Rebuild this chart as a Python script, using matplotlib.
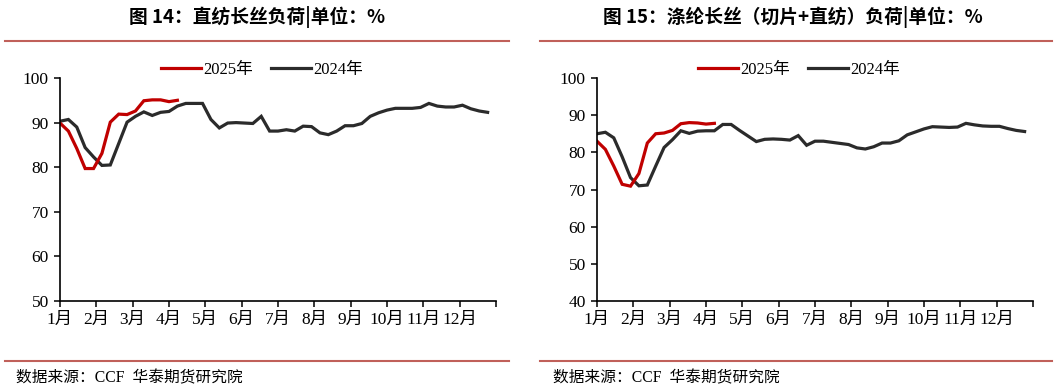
import numpy as np
import matplotlib
matplotlib.use('Agg')
import matplotlib.pyplot as plt
from matplotlib.lines import Line2D

plt.rcParams['font.family'] = ['Liberation Serif', 'Noto Sans CJK SC']

# 周度数据，x 轴按月份（0-12）排列
months = ['1月', '2月', '3月', '4月', '5月', '6月', '7月', '8月', '9月', '10月', '11月', '12月']

# 图14：直纺长丝负荷
zf_2024 = [90.3, 90.7, 89.0, 84.4, 82.3, 80.4, 80.5, 85.3, 90.1, 91.4, 92.4, 91.6, 92.3,
           92.5, 93.7, 94.3, 94.3, 94.3, 90.7, 88.8, 89.9, 90.0, 89.9, 89.8, 91.4, 88.1,
           88.1, 88.4, 88.1, 89.2, 89.1, 87.7, 87.3, 88.1, 89.3, 89.3, 89.8, 91.4, 92.2,
           92.8, 93.2, 93.2, 93.2, 93.4, 94.3, 93.7, 93.5, 93.5, 93.9, 93.1, 92.6, 92.3]
zf_2025 = [89.9, 88.1, 84.2, 79.7, 79.7, 83.1, 90.1, 91.9, 91.8, 92.6, 94.9, 95.1, 95.1,
           94.7, 95.0]

# 图15：涤纶长丝（切片+直纺）负荷
dl_2024 = [85.0, 85.4, 83.9, 78.8, 73.2, 71.0, 71.2, 76.3, 81.3, 83.4, 85.8, 85.1, 85.7,
           85.8, 85.8, 87.5, 87.5, 85.9, 84.4, 82.9, 83.5, 83.6, 83.5, 83.3, 84.5, 81.9,
           83.0, 83.0, 82.7, 82.4, 82.1, 81.2, 80.9, 81.5, 82.5, 82.5, 83.1, 84.7, 85.5,
           86.3, 86.9, 86.8, 86.7, 86.8, 87.8, 87.4, 87.1, 87.0, 87.0, 86.4, 85.9, 85.6]
dl_2025 = [83.0, 80.8, 76.3, 71.4, 70.9, 74.3, 82.5, 85.0, 85.2, 85.9, 87.7, 88.0, 87.9,
           87.6, 87.8]

RED = '#c00000'
DARK = '#2b2b2b'
RULE = '#c0605a'
W, H = 1057, 391


def week_x(n):
    return np.arange(n) * 12 / 52


def panel(fig, left, y2024, y2025, ylim, yticks, title, title_x, leg_x, rule_x0, rule_x1, src_x):
    ax = fig.add_axes([left / W, 1 - 301 / H, 436 / W, 223 / H])
    ax.plot(week_x(len(y2024)), y2024, color=DARK, lw=2.3, solid_joinstyle='miter')
    ax.plot(week_x(len(y2025)), y2025, color=RED, lw=2.3, solid_joinstyle='miter')
    ax.set_xlim(0, 12)
    ax.set_ylim(*ylim)
    ax.set_yticks(yticks)
    ax.set_xticks(range(13))
    ax.set_xticklabels(months + [''])
    for s in ['top', 'right']:
        ax.spines[s].set_visible(False)
    for s in ['left', 'bottom']:
        ax.spines[s].set_linewidth(1.2)
    ax.tick_params(direction='out', length=4, width=1.1, labelsize=12.5, pad=4)

    handles = [Line2D([], [], color=RED, lw=2.3), Line2D([], [], color=DARK, lw=2.3)]
    fig.legend(handles, ['2025年', '2024年'], loc='center', ncol=2,
               bbox_to_anchor=(leg_x / W, 1 - 70 / H), frameon=False, fontsize=12,
               handlelength=2.4, handletextpad=0.15, columnspacing=1.1)

    fig.text(title_x / W, 1 - 17 / H, title, ha='center', va='center', fontsize=13.5,
             fontweight='bold', family=['Noto Sans CJK SC', 'DejaVu Sans'])
    fig.add_artist(Line2D([rule_x0 / W, rule_x1 / W], [1 - 41 / H] * 2, color=RULE, lw=1.5))
    fig.add_artist(Line2D([rule_x0 / W, rule_x1 / W], [1 - 361 / H] * 2, color=RULE, lw=1.5))
    fig.text(src_x / W, 1 - 378 / H, '数据来源：CCF  华泰期货研究院', ha='left', va='center',
             fontsize=11.3)
    return ax


fig = plt.figure(figsize=(W / 100, H / 100), dpi=100)
panel(fig, 60, zf_2024, zf_2025, (50, 100), range(50, 101, 10),
      '图 14：直纺长丝负荷|单位：%', 257, 262, 5, 509, 16)
panel(fig, 597, dl_2024, dl_2025, (40, 100), range(40, 101, 10),
      '图 15：涤纶长丝（切片+直纺）负荷|单位：%', 793, 799, 540, 1052, 553)
fig.savefig('out.png', dpi=100)
